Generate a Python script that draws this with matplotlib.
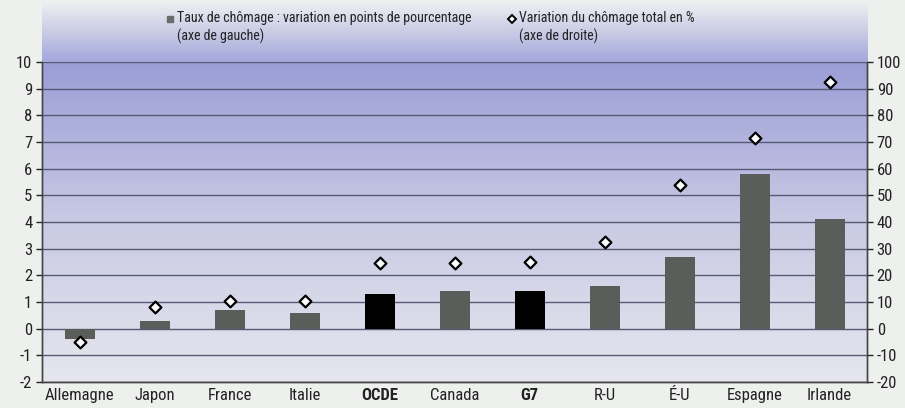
import numpy as np
import matplotlib
matplotlib.use("Agg")
import matplotlib.pyplot as plt
from matplotlib.colors import LinearSegmentedColormap
from matplotlib.lines import Line2D

plt.rcParams['font.family'] = ['Roboto Condensed', 'DejaVu Sans']
plt.rcParams['axes.unicode_minus'] = False

categories = ["Allemagne", "Japon", "France", "Italie", "OCDE", "Canada",
              "G7", "R-U", "É-U", "Espagne", "Irlande"]
rate_change = [-0.4, 0.3, 0.7, 0.6, 1.3, 1.4, 1.4, 1.6, 2.7, 5.8, 4.1]
total_change_pct = [-5, 8, 10.5, 10.5, 24.5, 24.5, 25, 32.5, 54, 71.5, 92.5]
aggregates = ["OCDE", "G7"]
left_ticks = list(range(-2, 11))
right_ticks = list(range(-20, 101, 10))

W, H = 905, 408
fig = plt.figure(figsize=(W / 100, H / 100), dpi=100)
fig.patch.set_facecolor("#eef0ee")

x0, x1, y_top, y_bot = 42, 867, 62, 382
ax = fig.add_axes([x0 / W, 1 - y_bot / H, (x1 - x0) / W, (y_bot - y_top) / H])

# header band holding the legend
band = fig.add_axes([x0 / W, 1 - y_top / H, (x1 - x0) / W, (y_top - 3) / H])
band_cmap = LinearSegmentedColormap.from_list(
    "band", ["#eceef2", "#c9cbe6", "#a3a6da"])
band.imshow(np.linspace(0, 1, 100).reshape(-1, 1), aspect="auto",
            cmap=band_cmap, extent=[0, 1, 0, 1], origin="upper")
band.set_axis_off()

# plot background gradient
bg_cmap = LinearSegmentedColormap.from_list(
    "bg", ["#e6e6ee", "#c9cae4", "#9b9ed6"])
ax.imshow(np.linspace(0, 1, 200).reshape(-1, 1), aspect="auto", cmap=bg_cmap,
          extent=[-0.5, 10.5, -2, 10], origin="lower", zorder=0)

x = np.arange(len(categories))
colors = ["#000000" if c in aggregates else "#5b5d5b" for c in categories]
ax.bar(x, rate_change, width=0.4, color=colors, zorder=3)

ax.set_xlim(-0.5, 10.5)
ax.set_ylim(-2, 10)
ax.set_yticks(left_ticks)
for t in left_ticks:
    ax.axhline(t, color="#555a75", lw=1.0, zorder=2)

ax2 = ax.twinx()
ax2.set_ylim(-20, 100)
ax2.set_yticks(right_ticks)
ax2.scatter(x, total_change_pct, marker="D", s=36, facecolor="white",
            edgecolor="black", linewidth=1.6, zorder=5)

ax.set_xticks(x)
ax.set_xticklabels(categories, fontsize=12)
for lbl in ax.get_xticklabels():
    if lbl.get_text() in aggregates:
        lbl.set_fontweight("bold")
ax.tick_params(axis="x", length=0, pad=4, colors="#222222")
ax.tick_params(axis="y", labelsize=12, length=4, width=1, colors="#222222",
               pad=3)
ax2.tick_params(axis="y", labelsize=12, length=4, width=1, colors="#222222",
                pad=3)

for a in (ax, ax2):
    a.spines["top"].set_visible(False)
    for s in ("left", "right", "bottom"):
        a.spines[s].set_color("#444444")
        a.spines[s].set_linewidth(1.0)

# legend entries in the header band
fig.add_artist(Line2D([170 / W], [1 - 19 / H], marker="s", markersize=4,
                      color="#6a6c6a", linestyle="none",
                      transform=fig.transFigure))
fig.text(177 / W, 1 - 11 / H,
         "Taux de chômage : variation en points de pourcentage\n(axe de gauche)",
         fontsize=10, color="#222222", ha="left", va="top", linespacing=1.3)
fig.add_artist(Line2D([512 / W], [1 - 19 / H], marker="D", markersize=4.5,
                      markerfacecolor="white", markeredgecolor="black",
                      markeredgewidth=1.4, linestyle="none",
                      transform=fig.transFigure))
fig.text(519 / W, 1 - 11 / H, "Variation du chômage total en %\n(axe de droite)",
         fontsize=10, color="#222222", ha="left", va="top", linespacing=1.3)

fig.savefig("out.png", dpi=100, facecolor=fig.get_facecolor())
